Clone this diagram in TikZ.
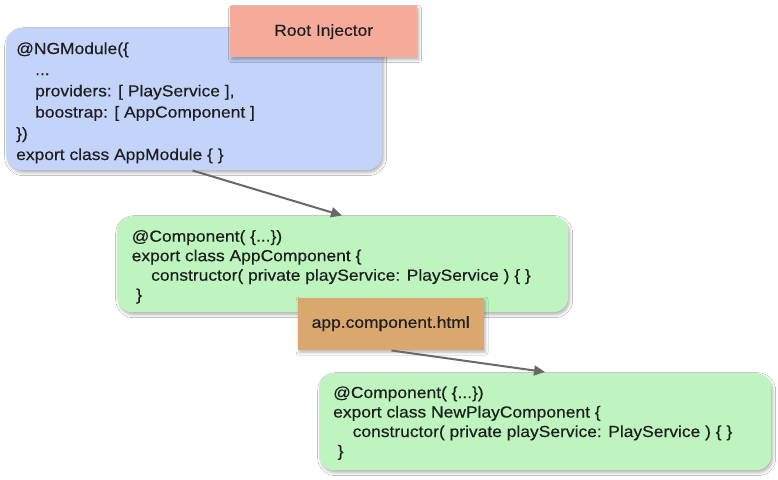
\documentclass[tikz,border=0pt]{standalone}
\usepackage{fontspec}
\setmainfont[FakeStretch=1.09,FakeBold=0.4]{Liberation Sans}
\usetikzlibrary{arrows.meta,shadows.blur}
\definecolor{bluefill}{RGB}{196,211,250}
\definecolor{greenfill}{RGB}{190,245,191}
\definecolor{salmonfill}{RGB}{245,170,154}
\definecolor{tanfill}{RGB}{218,167,110}
\definecolor{arrowgray}{RGB}{105,105,105}
\definecolor{textcol}{RGB}{30,30,30}
\tikzset{
  shadowed/.style={blur shadow={shadow xshift=1.5pt, shadow yshift=-2.5pt, shadow blur radius=3pt, shadow opacity=30}},
  bluebox/.style={draw=none, fill=bluefill, rounded corners=16pt, anchor=north west, shadowed},
  greenbox/.style={draw=none, fill=greenfill, rounded corners=15pt, anchor=north west, shadowed},
  tagbox/.style={draw=none, anchor=north west, shadowed, text=textcol, font=\fontsize{16}{19}\selectfont},
  code/.style={anchor=base west, inner sep=0pt, text=textcol, font=\fontsize{16}{19}\selectfont},
  conn/.style={draw=arrowgray, line width=2pt, -{Triangle[length=11pt,width=10pt]}},
}
\begin{document}
\begin{tikzpicture}[x=1pt,y=-1pt]
\useasboundingbox[fill=white] (0,0) rectangle (778,479);
% AppModule box
\node[bluebox, minimum width=376pt, minimum height=142pt] (mod) at (6,28) {};
\node[code] (m1) at (16,54) {@NGModule(\{};
\node[code] (m2) at (35,75.2) {...};
\node[code] (m3) at (35,96.4) {providers: [ PlayService ],};
\node[code] (m4) at (35,117.6) {boostrap: [ AppComponent ]};
\node[code] (m5) at (16,138.8) {\})};
\node[code] (m6) at (16,160) {export class AppModule \{ \}};
% Root injector
\node[tagbox, fill=salmonfill, minimum width=187pt, minimum height=51pt] (root) at (230,6) {Root Injector};
% AppComponent box
\node[greenbox, minimum width=451pt, minimum height=96pt] (app) at (117,216) {};
\node[code] (c1) at (131.5,241.7) {@Component( \{...\})};
\node[code] (c2) at (131.5,261.2) {export class AppComponent \{};
\node[code] (c3) at (151,280.7) {constructor( private playService: PlayService ) \{ \}};
\node[code] (c4) at (136,300.2) {\}};
% template box
\node[tagbox, fill=tanfill, minimum width=186pt, minimum height=52pt] (tpl) at (297.5,297.5) {app.component.html};
% NewPlayComponent box
\node[greenbox, minimum width=452pt, minimum height=97pt] (newp) at (319,373) {};
\node[code] (n1) at (333,398) {@Component( \{...\})};
\node[code] (n2) at (333,417.5) {export class NewPlayComponent \{};
\node[code] (n3) at (352.5,437) {constructor( private playService: PlayService ) \{ \}};
\node[code] (n4) at (337.5,456.5) {\}};
% connectors
\coordinate (a1s) at (192.5,170.5);
\coordinate (a1e) at (342,215.5);
\coordinate (a2s) at (391.5,350.5);
\coordinate (a2e) at (545,372);
\draw[conn] (a1s) -- (a1e);
\draw[conn] (a2s) -- (a2e);
\end{tikzpicture}
\end{document}
